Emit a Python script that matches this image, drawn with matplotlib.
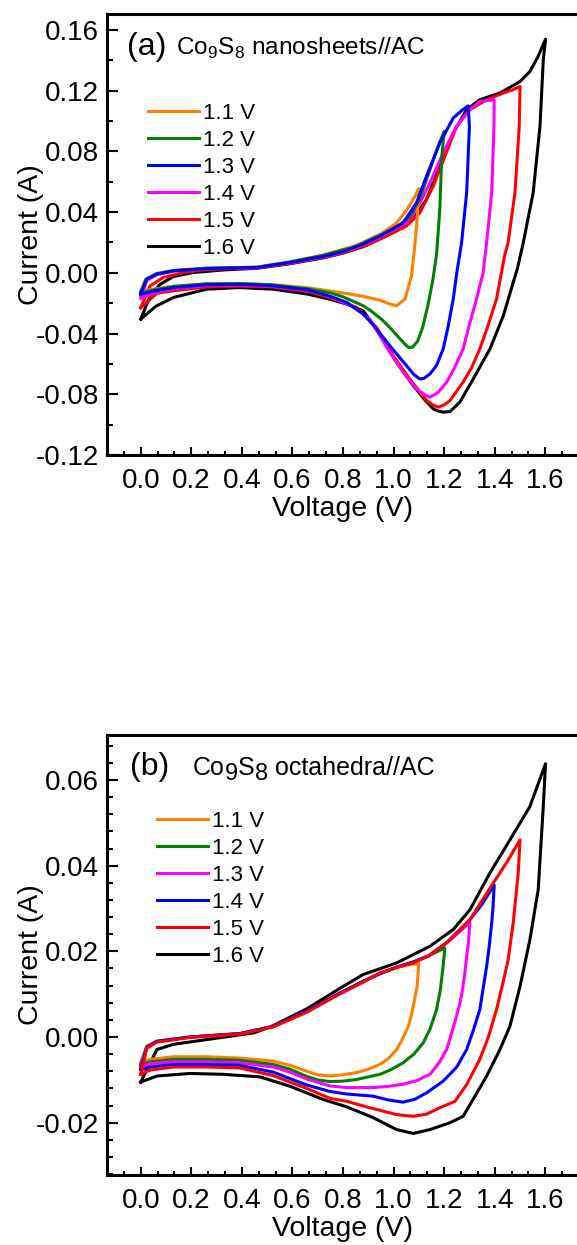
import matplotlib
matplotlib.use("Agg")
import matplotlib.pyplot as plt
from matplotlib.lines import Line2D
from matplotlib.ticker import MultipleLocator, AutoMinorLocator, FormatStrFormatter

plt.rcParams["font.family"] = ["Liberation Sans", "DejaVu Sans"]
plt.rcParams["mathtext.fontset"] = "custom"
plt.rcParams["mathtext.rm"] = "Liberation Sans"
plt.rcParams["axes.unicode_minus"] = False

# ---------------- data ----------------
labels = ["1.1 V", "1.2 V", "1.3 V", "1.4 V", "1.5 V", "1.6 V"]

# (a) Co9S8 nanosheets//AC
a_v_11 = [0.00, 0.02, 0.06, 0.13, 0.26, 0.46, 0.59, 0.72, 0.85, 0.95, 1.01, 1.05, 1.08, 1.10,
          1.093, 1.084, 1.071, 1.045, 1.012, 0.985, 0.946, 0.88, 0.83, 0.75, 0.66, 0.52, 0.39,
          0.26, 0.13, 0.06, 0.00]
a_i_11 = [-0.012, -0.004, -0.0005, 0.0016, 0.0031, 0.0038, 0.0073, 0.0117, 0.0178, 0.0258, 0.0325,
          0.041, 0.049, 0.0555, 0.035, 0.0177, -0.002, -0.0173, -0.0217, -0.0205, -0.0180, -0.0155,
          -0.0140, -0.0120, -0.0098, -0.0078, -0.0070, -0.0072, -0.0088, -0.0105, -0.012]

a_v_12 = [0.00, 0.02, 0.06, 0.13, 0.26, 0.46, 0.59, 0.72, 0.85, 0.95, 1.02, 1.064, 1.104, 1.144,
          1.175, 1.20, 1.19, 1.183, 1.17, 1.155, 1.135, 1.115, 1.095, 1.075, 1.06, 1.045, 1.02,
          0.985, 0.955, 0.91, 0.88, 0.80, 0.75, 0.66, 0.52, 0.39, 0.26, 0.13, 0.06, 0.00]
a_i_12 = [-0.013, -0.0045, -0.0008, 0.0015, 0.003, 0.0037, 0.0071, 0.0114, 0.0173, 0.025, 0.031,
          0.037, 0.049, 0.068, 0.083, 0.0932, 0.0746, 0.042, 0.012, -0.005, -0.022, -0.036, -0.045,
          -0.049, -0.0492, -0.047, -0.0425, -0.036, -0.031, -0.025, -0.0217, -0.0158, -0.0132,
          -0.0105, -0.0080, -0.0071, -0.0073, -0.0090, -0.011, -0.013]

a_v_13 = [0.00, 0.024, 0.064, 0.13, 0.26, 0.46, 0.59, 0.72, 0.80, 0.88, 0.95, 1.038, 1.091, 1.13,
          1.183, 1.236, 1.27, 1.295, 1.30, 1.289, 1.269, 1.25, 1.236, 1.215, 1.196, 1.17, 1.144,
          1.12, 1.104, 1.08, 1.051, 1.02, 0.985, 0.933, 0.88, 0.815, 0.75, 0.66, 0.52, 0.39, 0.26,
          0.13, 0.06, 0.00]
a_i_13 = [-0.014, -0.0042, -0.0009, 0.0013, 0.0028, 0.0035, 0.0068, 0.0107, 0.014, 0.019, 0.0245,
          0.033, 0.0462, 0.0636, 0.0856, 0.102, 0.107, 0.110, 0.0965, 0.0527, 0.0199, 0.0, -0.0173,
          -0.036, -0.0502, -0.061, -0.0666, -0.0695, -0.0699, -0.067, -0.0611, -0.055, -0.048,
          -0.037, -0.027, -0.0195, -0.0155, -0.0112, -0.0085, -0.0076, -0.0079, -0.0097, -0.0118,
          -0.014]

a_v_14 = [0.00, 0.024, 0.064, 0.13, 0.26, 0.46, 0.59, 0.72, 0.80, 0.88, 0.95, 1.051, 1.091, 1.144,
          1.196, 1.249, 1.302, 1.341, 1.37, 1.398, 1.397, 1.388, 1.368, 1.354, 1.328, 1.30, 1.275,
          1.24, 1.21, 1.175, 1.144, 1.12, 1.091, 1.038, 0.985, 0.906, 0.827, 0.75, 0.66, 0.52,
          0.39, 0.26, 0.13, 0.06, 0.00]
a_i_14 = [-0.0165, -0.005, -0.0012, 0.0012, 0.0027, 0.0034, 0.0066, 0.0105, 0.0138, 0.0185, 0.024,
          0.033, 0.0418, 0.0593, 0.079, 0.0965, 0.1075, 0.1129, 0.1135, 0.114, 0.0965, 0.0527,
          0.0199, 0.0, -0.0173, -0.034, -0.0502, -0.063, -0.072, -0.079, -0.0819, -0.080, -0.0765,
          -0.0655, -0.0523, -0.0305, -0.021, -0.0158, -0.0115, -0.0088, -0.0080, -0.0083, -0.0105,
          -0.013, -0.0165]

a_v_15 = [0.00, 0.037, 0.09, 0.17, 0.26, 0.46, 0.59, 0.72, 0.80, 0.88, 0.946, 1.051, 1.104, 1.157,
          1.203, 1.249, 1.302, 1.368, 1.434, 1.47, 1.50, 1.497, 1.48, 1.453, 1.44, 1.407, 1.375,
          1.341, 1.31, 1.275, 1.245, 1.223, 1.20, 1.177, 1.155, 1.13, 1.097, 1.064, 0.998, 0.933,
          0.854, 0.75, 0.66, 0.52, 0.39, 0.26, 0.13, 0.064, 0.00]
a_i_15 = [-0.023, -0.0086, -0.003, 0.0002, 0.0022, 0.0032, 0.0062, 0.010, 0.0132, 0.0175, 0.0221,
          0.0308, 0.0396, 0.0571, 0.0768, 0.0965, 0.1075, 0.114, 0.1184, 0.1205, 0.1228, 0.0965,
          0.0527, 0.0199, 0.012, -0.0173, -0.034, -0.0502, -0.062, -0.072, -0.079, -0.0841, -0.087,
          -0.0885, -0.087, -0.0841, -0.077, -0.0699, -0.0546, -0.036, -0.0228, -0.0165, -0.0122,
          -0.0093, -0.0088, -0.0093, -0.0118, -0.0135, -0.023]

a_v_16 = [0.00, 0.037, 0.077, 0.13, 0.209, 0.328, 0.46, 0.59, 0.72, 0.80, 0.88, 0.998, 1.077, 1.13,
          1.183, 1.236, 1.289, 1.341, 1.42, 1.50, 1.539, 1.57, 1.601, 1.592, 1.579, 1.552, 1.513,
          1.49, 1.473, 1.434, 1.381, 1.315, 1.262, 1.223, 1.197, 1.175, 1.157, 1.12, 1.078, 1.012,
          0.946, 0.88, 0.815, 0.75, 0.66, 0.525, 0.39, 0.26, 0.13, 0.06, 0.00]
a_i_16 = [-0.0305, -0.0152, -0.0075, -0.0024, 0.0002, 0.0019, 0.003, 0.006, 0.0098, 0.013, 0.0172,
          0.0265, 0.0352, 0.0483, 0.0702, 0.0921, 0.1075, 0.114, 0.1184, 0.126, 0.1326, 0.142,
          0.1539, 0.140, 0.0965, 0.0527, 0.0199, 0.003, -0.0064, -0.0283, -0.0502, -0.0699, -0.0852,
          -0.0914, -0.0918, -0.091, -0.0896, -0.083, -0.0743, -0.0589, -0.0403, -0.025, -0.0206,
          -0.0175, -0.0140, -0.0108, -0.0097, -0.0108, -0.0162, -0.022, -0.0305]

# (b) Co9S8 octahedra//AC
b_v_11 = [0.00, 0.024, 0.064, 0.195, 0.393, 0.525, 0.657, 0.789, 0.88, 0.946, 1.012, 1.05, 1.10,
          1.093, 1.084, 1.07, 1.058, 1.035, 1.012, 0.98, 0.946, 0.90, 0.854, 0.80, 0.748, 0.70,
          0.657, 0.59, 0.525, 0.39, 0.26, 0.13, 0.037, 0.00]
b_i_11 = [-0.006, -0.0021, -0.001, 0.0, 0.0008, 0.0025, 0.006, 0.0103, 0.013, 0.0148, 0.0163,
          0.0168, 0.0171, 0.0118, 0.009, 0.005, 0.0025, -0.0005, -0.0029, -0.005, -0.0064, -0.0075,
          -0.0083, -0.0088, -0.0091, -0.0088, -0.008, -0.0066, -0.0056, -0.0049, -0.0046, -0.0046,
          -0.0052, -0.006]

b_v_12 = [0.00, 0.024, 0.064, 0.195, 0.393, 0.525, 0.657, 0.789, 0.88, 0.946, 1.012, 1.078, 1.14,
          1.203, 1.195, 1.185, 1.17, 1.145, 1.117, 1.08, 1.038, 0.99, 0.946, 0.854, 0.80, 0.748,
          0.70, 0.657, 0.59, 0.525, 0.39, 0.26, 0.13, 0.037, 0.00]
b_i_12 = [-0.0065, -0.0022, -0.001, 0.0, 0.0008, 0.0025, 0.006, 0.0103, 0.013, 0.0148, 0.0163,
          0.0175, 0.019, 0.0208, 0.016, 0.011, 0.0064, 0.002, -0.0014, -0.004, -0.006, -0.0076,
          -0.0087, -0.0099, -0.0103, -0.0104, -0.0100, -0.0092, -0.0075, -0.0064, -0.0054, -0.0052,
          -0.0052, -0.0058, -0.0065]

b_v_13 = [0.00, 0.024, 0.064, 0.195, 0.393, 0.525, 0.657, 0.789, 0.88, 0.946, 1.012, 1.078, 1.14,
          1.21, 1.26, 1.302, 1.296, 1.289, 1.282, 1.27, 1.256, 1.235, 1.21, 1.18, 1.144, 1.09,
          1.038, 0.98, 0.919, 0.815, 0.748, 0.657, 0.59, 0.525, 0.39, 0.26, 0.13, 0.037, 0.00]
b_i_13 = [-0.007, -0.0023, -0.001, 0.0, 0.0008, 0.0025, 0.006, 0.0103, 0.013, 0.0148, 0.0163,
          0.0175, 0.019, 0.022, 0.0245, 0.0268, 0.022, 0.0188, 0.015, 0.010, 0.0064, 0.002, -0.0029,
          -0.006, -0.0087, -0.0102, -0.011, -0.0115, -0.0118, -0.0118, -0.0114, -0.0098, -0.0082,
          -0.007, -0.006, -0.0058, -0.0058, -0.0062, -0.007]

b_v_14 = [0.00, 0.024, 0.064, 0.195, 0.393, 0.525, 0.657, 0.789, 0.88, 0.946, 1.012, 1.078, 1.14,
          1.21, 1.302, 1.35, 1.398, 1.393, 1.388, 1.378, 1.368, 1.341, 1.315, 1.289, 1.25, 1.196,
          1.131, 1.085, 1.038, 0.98, 0.919, 0.815, 0.748, 0.657, 0.59, 0.525, 0.39, 0.26, 0.13,
          0.037, 0.00]
b_i_14 = [-0.0076, -0.0024, -0.001, 0.0, 0.0008, 0.0025, 0.006, 0.0103, 0.013, 0.0148, 0.0163,
          0.0175, 0.019, 0.022, 0.0274, 0.031, 0.0355, 0.030, 0.0266, 0.021, 0.0165, 0.0064, 0.0015,
          -0.0029, -0.007, -0.0103, -0.013, -0.0145, -0.0152, -0.0147, -0.0138, -0.0133, -0.0127,
          -0.0112, -0.0097, -0.0082, -0.0066, -0.0064, -0.0064, -0.007, -0.0076]

b_v_15 = [0.00, 0.024, 0.064, 0.195, 0.393, 0.525, 0.657, 0.789, 0.88, 0.946, 1.012, 1.078, 1.14,
          1.209, 1.302, 1.394, 1.45, 1.50, 1.493, 1.473, 1.453, 1.43, 1.407, 1.375, 1.341, 1.29,
          1.243, 1.183, 1.13, 1.078, 1.012, 0.906, 0.815, 0.748, 0.657, 0.59, 0.525, 0.39, 0.26,
          0.13, 0.037, 0.00]
b_i_15 = [-0.0087, -0.0026, -0.0012, -0.0001, 0.0007, 0.0024, 0.0058, 0.0101, 0.0128, 0.015,
          0.0162, 0.0173, 0.019, 0.022, 0.0274, 0.0359, 0.041, 0.046, 0.0383, 0.0266, 0.018, 0.012,
          0.0064, 0.0, -0.0052, -0.011, -0.015, -0.0165, -0.018, -0.0185, -0.0181, -0.0165, -0.015,
          -0.0143, -0.012, -0.0105, -0.009, -0.0072, -0.007, -0.007, -0.0077, -0.0087]

b_v_16 = [0.00, 0.064, 0.13, 0.26, 0.45, 0.525, 0.657, 0.80, 0.88, 1.012, 1.144, 1.236, 1.302,
          1.381, 1.46, 1.539, 1.601, 1.592, 1.572, 1.539, 1.50, 1.46, 1.42, 1.368, 1.32, 1.275,
          1.223, 1.144, 1.078, 1.012, 0.919, 0.815, 0.723, 0.591, 0.472, 0.328, 0.195, 0.064, 0.00]
b_i_16 = [-0.0105, -0.0029, -0.0017, -0.0006, 0.001, 0.0027, 0.0066, 0.0118, 0.0146, 0.0173,
          0.0212, 0.0251, 0.0297, 0.0383, 0.046, 0.0538, 0.0638, 0.0538, 0.0344, 0.0227, 0.0118,
          0.0025, -0.003, -0.0091, -0.014, -0.0185, -0.020, -0.0216, -0.0225, -0.0216, -0.0188,
          -0.0163, -0.0146, -0.0115, -0.0093, -0.0087, -0.0085, -0.0091, -0.0105]

# ---------------- styling ----------------
ORANGE, GREEN, BLUE, MAGENTA, RED, BLACK = "#FF8000", "#008000", "#0000FF", "#FF00FF", "#FF0000", "#000000"
colors_a = [ORANGE, GREEN, BLUE, MAGENTA, RED, BLACK]
colors_b = [ORANGE, GREEN, MAGENTA, BLUE, RED, BLACK]
LW = 2.2

W, H = 577, 1245
fig = plt.figure(figsize=(W / 100, H / 100), dpi=100)


def px_axes(left, top, right, bottom):
    return fig.add_axes([left / W, 1 - bottom / H, (right - left) / W, (bottom - top) / H])


def style_axes(ax, ylim, ymajor, yminor_n):
    ax.set_xlim(-0.2 / 1.5, 1.6 + 0.2 / 1.5)
    ax.set_ylim(*ylim)
    ax.xaxis.set_major_locator(MultipleLocator(0.2))
    ax.xaxis.set_minor_locator(AutoMinorLocator(3))
    ax.yaxis.set_major_locator(MultipleLocator(ymajor))
    ax.yaxis.set_minor_locator(AutoMinorLocator(yminor_n))
    ax.xaxis.set_major_formatter(FormatStrFormatter("%.1f"))
    ax.yaxis.set_major_formatter(FormatStrFormatter("%.2f"))
    for s in ("left", "bottom", "top"):
        ax.spines[s].set_linewidth(2.2)
    ax.spines["right"].set_visible(False)
    ax.tick_params(axis="both", which="both", direction="in", labelsize=20, width=1.5)
    ax.tick_params(axis="y", which="major", length=8, pad=6)
    ax.tick_params(axis="y", which="minor", length=4.3)
    ax.tick_params(axis="x", which="major", length=5.8, pad=9)
    ax.tick_params(axis="x", which="minor", length=2.9)
    ax.set_xlabel("Voltage (V)", fontsize=20.5, labelpad=1.5)
    ax.set_ylabel("Current (A)", fontsize=20.5)
    # y label sits close to the tick labels, as in the original
    ax.yaxis.set_label_coords(-0.134, 0.5)


def add_legend(ax, colors, anchor):
    handles = [Line2D([], [], color=c, lw=LW) for c in colors]
    ax.legend(handles, labels, loc="upper left", bbox_to_anchor=anchor, frameon=False,
              fontsize=16, handlelength=2.3, handletextpad=0.18, labelspacing=0.27,
              borderpad=0, borderaxespad=0)


# ---------------- panel (a) ----------------
ax_a = px_axes(107, 14, 579, 455)
curves_a = [(a_v_16, a_i_16, 5), (a_v_15, a_i_15, 4), (a_v_14, a_i_14, 3),
            (a_v_11, a_i_11, 0), (a_v_12, a_i_12, 1), (a_v_13, a_i_13, 2)]
for v, i, k in curves_a:
    ax_a.plot(v, i, color=colors_a[k], lw=LW, solid_joinstyle="round")
style_axes(ax_a, (-0.12, 0.1705), 0.04, 2)
add_legend(ax_a, colors_a, (0.087, 0.798))
ax_a.text(0.042, 0.907, "(a)", transform=ax_a.transAxes, fontsize=23, va="baseline")
ax_a.text(0.146, 0.907, r"Co$_\mathregular{9}$S$_\mathregular{8}$ nanosheets//AC",
          transform=ax_a.transAxes, fontsize=17.6, va="baseline")

# ---------------- panel (b) ----------------
ax_b = px_axes(107, 735, 579, 1175)
curves_b = [(b_v_16, b_i_16, 5), (b_v_11, b_i_11, 0), (b_v_12, b_i_12, 1),
            (b_v_13, b_i_13, 2), (b_v_14, b_i_14, 3), (b_v_15, b_i_15, 4)]
for v, i, k in curves_b:
    ax_b.plot(v, i, color=colors_b[k], lw=LW, solid_joinstyle="round")
style_axes(ax_b, (-0.0322, 0.0705), 0.02, 5)
add_legend(ax_b, colors_b, (0.106, 0.827))
ax_b.text(0.049, 0.909, "(b)", transform=ax_b.transAxes, fontsize=23, va="baseline")

# title with lowered full-size digits, built piece by piece
t = ax_b.text(0.182, 0.909, "Co", transform=ax_b.transAxes, fontsize=18, va="baseline")
t = ax_b.annotate("9", xy=(1, 0), xycoords=t, xytext=(0, -5), textcoords="offset pixels",
                  fontsize=17, va="bottom")
t = ax_b.annotate("S", xy=(1, 0), xycoords=t, xytext=(0, 5), textcoords="offset pixels",
                  fontsize=18, va="bottom")
t = ax_b.annotate("8", xy=(1, 0), xycoords=t, xytext=(0, -5), textcoords="offset pixels",
                  fontsize=17, va="bottom")
ax_b.annotate(" octahedra//AC", xy=(1, 0), xycoords=t, xytext=(0, 5), textcoords="offset pixels",
              fontsize=18, va="bottom")

fig.savefig("out.png", dpi=100)
